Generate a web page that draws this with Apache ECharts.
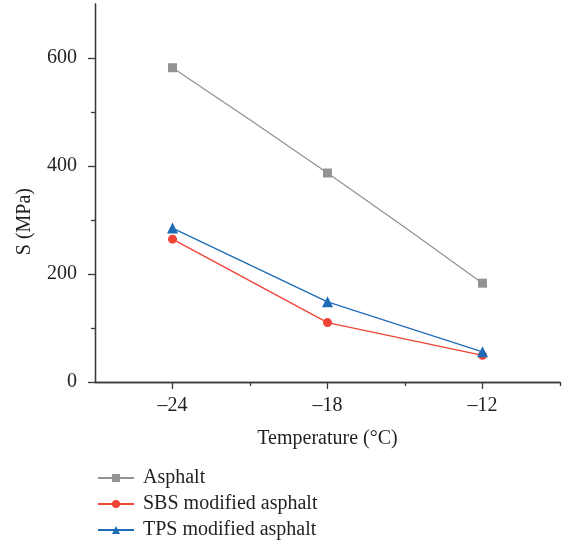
<!DOCTYPE html>
<html>
<head>
<meta charset="utf-8">
<script src="https://cdn.jsdelivr.net/npm/echarts@6/dist/echarts.min.js"></script>
<style>html,body{margin:0;padding:0;background:#fff}#c{width:563px;height:540px}</style>
</head>
<body>
<div id="c"></div>
<script>
const temperatures = [-24, -18, -12];
const asphalt = [582, 387, 183];
const sbs = [264.5, 110, 49.5];
const tps = [285, 148.5, 56];
const xMajorTicks = [-24, -18, -12];
const xMinorTicks = [-21, -15, -9];
const yMajorTicks = [0, 200, 400, 600];
const yMinorTicks = [100, 300, 500];
const seriesNames = ['Asphalt', 'SBS modified asphalt', 'TPS modified asphalt'];

const font = 'Liberation Serif';
const fs = 20;
const axisColor = '#3a3a3a';
const chart = echarts.init(document.getElementById('c'), null, {renderer: 'canvas'});
const pairs = arr => temperatures.map((t, i) => [t, arr[i]]);

const baseX = {
  type: 'value', min: -27, max: -9, gridIndex: 0, position: 'bottom',
  splitLine: {show: false},
  axisLine: {show: true, onZero: false, lineStyle: {color: axisColor, width: 1.3}}
};
const baseY = {
  type: 'value', min: 0, max: 700, gridIndex: 0, position: 'left',
  splitLine: {show: false},
  axisLine: {show: true, onZero: false, lineStyle: {color: axisColor, width: 1.3}}
};

chart.setOption({
  animation: false,
  grid: {left: 95, top: 4, right: 3, bottom: 158, containLabel: false},
  xAxis: [
    Object.assign({}, baseX, {
      name: 'Temperature (°C)', nameLocation: 'middle', nameGap: 47,
      nameTextStyle: {fontFamily: font, fontSize: fs, color: '#231f20'},
      axisTick: {show: true, length: 7, customValues: xMajorTicks, lineStyle: {color: axisColor, width: 1.3}},
      axisLabel: {show: true, margin: 14, customValues: xMajorTicks, fontFamily: font, fontSize: fs, color: '#231f20',
        formatter: v => (v < 0 ? '\u2013' + Math.abs(v) : String(v))}
    }),
    Object.assign({}, baseX, {
      axisTick: {show: true, length: 4, customValues: xMinorTicks, lineStyle: {color: axisColor, width: 1.3}},
      axisLabel: {show: false}
    })
  ],
  yAxis: [
    Object.assign({}, baseY, {
      axisTick: {show: true, length: 7, customValues: yMajorTicks, lineStyle: {color: axisColor, width: 1.3}},
      axisLabel: {show: true, margin: 18, customValues: yMajorTicks, fontFamily: font, fontSize: fs, color: '#231f20'}
    }),
    Object.assign({}, baseY, {
      axisTick: {show: true, length: 4, customValues: yMinorTicks, lineStyle: {color: axisColor, width: 1.3}},
      axisLabel: {show: false}
    })
  ],
  graphic: [{
    type: 'text', left: 15, top: 188, rotation: Math.PI / 2,
    style: {text: 'S (MPa)', fontFamily: font, fontSize: fs, fill: '#231f20'}
  }],
  legend: {
    orient: 'vertical', left: 92, top: 463, height: 80, itemWidth: 36, itemHeight: 10, itemGap: 6,
    textStyle: {fontFamily: font, fontSize: fs, color: '#231f20', padding: [0, 0, 0, 4]},
    data: seriesNames
  },
  series: [
    {name: seriesNames[0], type: 'line', data: pairs(asphalt), smooth: 0.5, symbol: 'rect', symbolSize: 9,
      lineStyle: {color: '#939393', width: 1.3}, itemStyle: {color: '#939393'}},
    {name: seriesNames[1], type: 'line', data: pairs(sbs), symbol: 'circle', symbolSize: 9,
      lineStyle: {color: '#ee4436', width: 1.3}, itemStyle: {color: '#ee4436'}},
    {name: seriesNames[2], type: 'line', data: pairs(tps), symbol: 'triangle', symbolSize: 11,
      lineStyle: {color: '#1f6cb6', width: 1.3}, itemStyle: {color: '#1f6cb6'}}
  ]
});
</script>
</body>
</html>
